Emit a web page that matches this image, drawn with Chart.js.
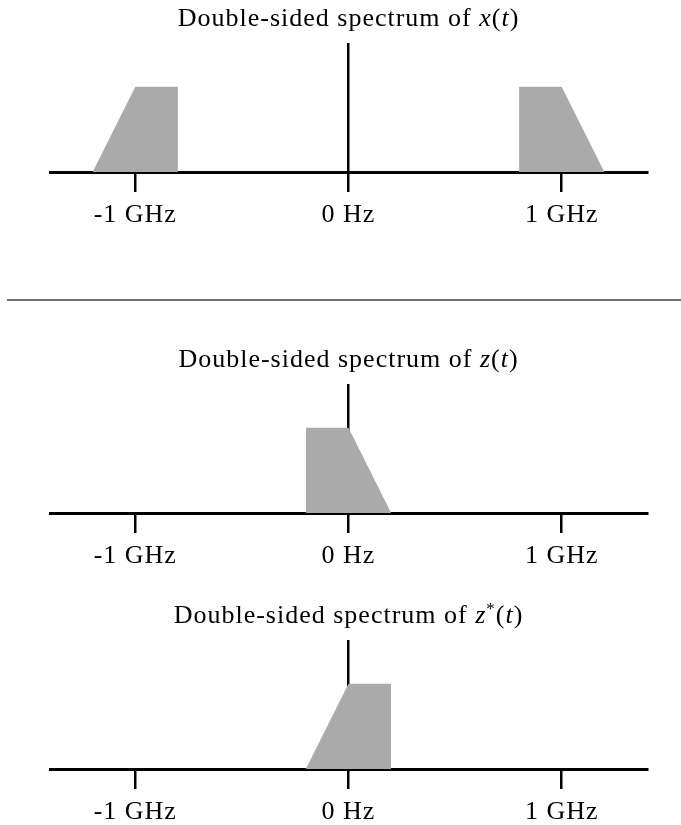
<!DOCTYPE html>
<html>
<head>
<meta charset="utf-8">
<title>Spectra</title>
<script src="https://cdn.jsdelivr.net/npm/chart.js@4/dist/chart.umd.min.js"></script>
<style>
    html, body { margin: 0; padding: 0; background: #fff; }
    body { position: relative; width: 681px; height: 825px; overflow: hidden; }
    .panel { position: absolute; left: 0; }
    #divider { position: absolute; left: 7px; right: 0; top: 299px; height: 2px; background: #707070; }
</style>
</head>
<body>
<canvas id="spec-x" class="panel" width="681" height="232" style="top:0"></canvas>
<div id="divider"></div>
<canvas id="spec-z" class="panel" width="681" height="232" style="top:341px"></canvas>
<canvas id="spec-zc" class="panel" width="681" height="232" style="top:597px"></canvas>
<script>
// Eje de frecuencia (GHz)
const freqTicks = [-1, 0, 1];
const freqTickLabels = ['-1 GHz', '0 Hz', '1 GHz'];

// x(t): señal real, bandas espejo en ±1 GHz
const xLowerFreq = [-1.2, -1.0, -0.8, -0.8];
const xLowerMag = [0, 1, 1, 0];
const xUpperFreq = [0.8, 0.8, 1.0, 1.2];
const xUpperMag = [0, 1, 1, 0];

// z(t): banda trasladada a banda base
const zFreq = [-0.2, -0.2, 0, 0.2];
const zMag = [0, 1, 1, 0];

// z*(t): conjugado, espectro invertido
const zConjFreq = [-0.2, 0, 0.2, 0.2];
const zConjMag = [0, 1, 1, 0];

const SERIF = '"Liberation Serif", "Times New Roman", serif';
const BAND_COLOR = '#aaaaaa';

const toPoints = (freq, mag) => freq.map((f, i) => ({ x: f, y: mag[i] }));

/**
 * Espaciado de letras para las etiquetas del eje
 */
const letterSpacing = {
    id: 'letterSpacing',
    beforeDraw(chart) {
        chart.ctx.letterSpacing = '1px';
    }
};

/**
 * Título con partes en cursiva / superíndice (notación matemática)
 */
const richTitle = {
    id: 'richTitle',
    afterDraw(chart, args, opts) {
        const ctx = chart.ctx;
        const parts = opts.parts || [];
        const fontFor = p => (p.italic ? 'italic ' : '') + (p.sup ? 17 : 26) + 'px ' + SERIF;

        ctx.save();
        ctx.letterSpacing = '1px';
        ctx.fillStyle = '#000';
        ctx.textBaseline = 'alphabetic';
        ctx.textAlign = 'left';

        let total = 0;
        parts.forEach(p => {
            ctx.font = fontFor(p);
            p.w = ctx.measureText(p.text).width;
            total += p.w;
        });

        const area = chart.chartArea;
        let x = (area.left + area.right) / 2 - total / 2;
        const baseline = area.top + opts.offset;
        parts.forEach(p => {
            ctx.font = fontFor(p);
            ctx.fillText(p.text, x, p.sup ? baseline - 9 : baseline);
            x += p.w;
        });
        ctx.restore();
    }
};

function spectrumChart(id, bands, titleParts) {
    return new Chart(document.getElementById(id), {
        type: 'line',
        data: {
            datasets: bands.map(points => ({
                data: points,
                fill: 'origin',
                backgroundColor: BAND_COLOR,
                borderColor: 'rgba(0,0,0,0)',
                borderWidth: 0,
                pointRadius: 0,
                tension: 0
            }))
        },
        options: {
            responsive: false,
            animation: false,
            events: [],
            layout: { padding: { top: 44, left: 50, right: 34, bottom: 0 } },
            plugins: {
                legend: { display: false },
                tooltip: { enabled: false },
                title: { display: false },
                richTitle: { parts: titleParts, offset: -18 }
            },
            scales: {
                x: {
                    type: 'linear',
                    min: -1.4,
                    max: 1.4,
                    z: 1,
                    afterBuildTicks: s => { s.ticks = freqTicks.map(v => ({ value: v })); },
                    afterFit: s => { s.height = 60; },
                    grid: {
                        display: true,
                        drawOnChartArea: false,
                        drawTicks: true,
                        tickLength: 20,
                        lineWidth: 2.5,
                        color: '#000'
                    },
                    border: { display: true, width: 3, color: '#000' },
                    ticks: {
                        autoSkip: false,
                        maxRotation: 0,
                        padding: 8,
                        color: '#000',
                        font: { family: SERIF, size: 26 },
                        callback: v => freqTickLabels[freqTicks.indexOf(v)]
                    }
                },
                y: {
                    type: 'linear',
                    min: 0,
                    max: 1.5,
                    position: { x: 0 },
                    grid: { display: false },
                    ticks: { display: false },
                    border: { display: true, width: 2.5, color: '#000' }
                }
            }
        },
        plugins: [letterSpacing, richTitle]
    });
}

const prefix = { text: 'Double-sided spectrum of ' };
const tArg = [{ text: '(' }, { text: 't', italic: true }, { text: ')' }];

spectrumChart('spec-x',
    [toPoints(xLowerFreq, xLowerMag), toPoints(xUpperFreq, xUpperMag)],
    [prefix, { text: 'x', italic: true }, ...tArg]);

spectrumChart('spec-z',
    [toPoints(zFreq, zMag)],
    [prefix, { text: 'z', italic: true }, ...tArg]);

spectrumChart('spec-zc',
    [toPoints(zConjFreq, zConjMag)],
    [prefix, { text: 'z', italic: true }, { text: '*', sup: true }, ...tArg]);
</script>
</body>
</html>
